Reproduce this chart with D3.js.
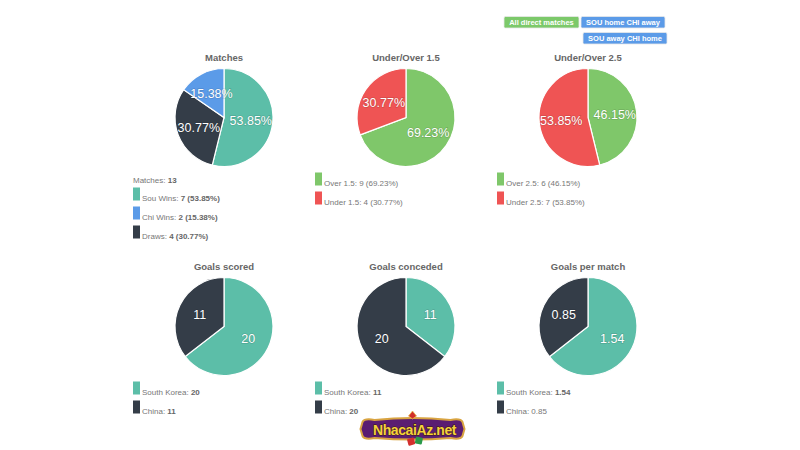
<!DOCTYPE html>
<html><head><meta charset="utf-8">
<script src="https://cdn.jsdelivr.net/npm/d3@7"></script>
<style>
html,body{margin:0;padding:0;background:#fff;}
svg{display:block;font-family:"Liberation Sans",Arial,sans-serif;}
</style></head>
<body><svg id="c" width="800" height="450"></svg>
<script>
// ---------- data ----------
const chartTitles = ["Matches","Under/Over 1.5","Under/Over 2.5","Goals scored","Goals conceded","Goals per match"];

const matchCats  = ["Sou Wins","Draws","Chi Wins"];     // pie order (clockwise from top)
const matchVals  = [7, 4, 2];
const matchPct   = [53.85, 30.77, 15.38];
const matchLegendOrder = ["Sou Wins","Chi Wins","Draws"];
const matchTotal = 13;

const uo15Cats = ["Over 1.5","Under 1.5"];
const uo15Vals = [9, 4];
const uo15Pct  = [69.23, 30.77];

const uo25Cats = ["Over 2.5","Under 2.5"];
const uo25Vals = [6, 7];
const uo25Pct  = [46.15, 53.85];

const teams = ["South Korea","China"];
const goalsScored   = [20, 11];
const goalsConceded = [11, 20];
const goalsPerMatch = [1.54, 0.85];

const buttonLabels = ["All direct matches","SOU home CHI away","SOU away CHI home"];

// ---------- styles ----------
const C = {teal:"#5cbea8", dark:"#343d48", blue:"#5b9be8", green:"#7fc76a", red:"#ef5454"};
const matchColors = {"Sou Wins":C.teal,"Chi Wins":C.blue,"Draws":C.dark};

const svg = d3.select("#c");
const R = 49;
const colX = d3.scalePoint().domain([0,1,2]).range([224, 588]);
const rowY = d3.scalePoint().domain([0,1]).range([117.5, 326.5]);

const panels = [
  {title:chartTitles[0], col:0,row:0,
   slices: matchCats.map((c,i)=>({name:c,value:matchVals[i],color:matchColors[c],label:matchPct[i].toFixed(2)+"%"})),
   header:["Matches: ", String(matchTotal)],
   legend: matchLegendOrder.map(c=>{const i=matchCats.indexOf(c);return {name:c+": ",val:matchVals[i]+" ("+matchPct[i].toFixed(2)+"%)",color:matchColors[c],bold:true};})},
  {title:chartTitles[1], col:1,row:0,
   slices: uo15Cats.map((c,i)=>({name:c,value:uo15Vals[i],color:[C.green,C.red][i],label:uo15Pct[i].toFixed(2)+"%"})),
   legend: uo15Cats.map((c,i)=>({name:c+": ",val:uo15Vals[i]+" ("+uo15Pct[i].toFixed(2)+"%)",color:[C.green,C.red][i],bold:false}))},
  {title:chartTitles[2], col:2,row:0,
   slices: uo25Cats.map((c,i)=>({name:c,value:uo25Vals[i],color:[C.green,C.red][i],label:uo25Pct[i].toFixed(2)+"%"})),
   legend: uo25Cats.map((c,i)=>({name:c+": ",val:uo25Vals[i]+" ("+uo25Pct[i].toFixed(2)+"%)",color:[C.green,C.red][i],bold:false}))},
  {title:chartTitles[3], col:0,row:1,
   slices: teams.map((t,i)=>({name:t,value:goalsScored[i],color:[C.teal,C.dark][i],label:String(goalsScored[i])})),
   legend: teams.map((t,i)=>({name:t+": ",val:String(goalsScored[i]),color:[C.teal,C.dark][i],bold:true}))},
  {title:chartTitles[4], col:1,row:1,
   slices: teams.map((t,i)=>({name:t,value:goalsConceded[i],color:[C.teal,C.dark][i],label:String(goalsConceded[i])})),
   legend: teams.map((t,i)=>({name:t+": ",val:String(goalsConceded[i]),color:[C.teal,C.dark][i],bold:true}))},
  {title:chartTitles[5], col:2,row:1,
   slices: teams.map((t,i)=>({name:t,value:goalsPerMatch[i],color:[C.teal,C.dark][i],label:goalsPerMatch[i].toFixed(2)})),
   legend: teams.map((t,i)=>({name:t+": ",val:goalsPerMatch[i].toFixed(2),color:[C.teal,C.dark][i],bold:i===0}))}
];

const pie = d3.pie().sort(null).value(d=>d.value);
const arc = d3.arc().innerRadius(0).outerRadius(R);
const labelArc = d3.arc().innerRadius(R*0.55).outerRadius(R*0.55);

panels.forEach(p=>{
  const cx = colX(p.col), cy = rowY(p.row);
  const g = svg.append("g").attr("transform",`translate(${cx},${cy})`);
  svg.append("text").attr("x",cx).attr("y",cy-R-8).attr("text-anchor","middle")
     .attr("font-size",9.5).attr("font-weight","bold").attr("fill","#666").text(p.title);
  const arcs = pie(p.slices);
  g.selectAll("path").data(arcs).join("path").attr("d",arc)
    .attr("fill",d=>d.data.color).attr("stroke","#fff").attr("stroke-width",1.2);
  g.selectAll("text.lbl").data(arcs).join("text").attr("class","lbl")
    .attr("transform",d=>`translate(${labelArc.centroid(d)})`)
    .attr("text-anchor","middle").attr("dy","0.36em")
    .attr("font-size",12.5).attr("fill","#fff")
    .style("paint-order","stroke").attr("stroke","rgba(0,0,0,0.12)").attr("stroke-width",1.5)
    .text(d=>d.data.label);

  // legend
  const lx = cx - 91;
  let ly = cy + R + 6;
  if (p.header){
    const t = svg.append("text").attr("x",lx).attr("y",cy+R+16).attr("font-size",8).attr("fill","#777");
    t.append("tspan").text(p.header[0]);
    t.append("tspan").attr("font-weight","bold").attr("fill","#666").text(p.header[1]);
    ly = cy + R + 21;
  }
  p.legend.forEach((it,i)=>{
    const y = ly + i*19;
    svg.append("rect").attr("x",lx).attr("y",y).attr("width",7).attr("height",13).attr("fill",it.color);
    const t = svg.append("text").attr("x",lx+9).attr("y",y+13).attr("font-size",8).attr("fill","#777");
    t.append("tspan").text(it.name);
    t.append("tspan").attr("font-weight",it.bold?"bold":"normal").attr("fill",it.bold?"#666":"#777").text(it.val);
  });
});

// ---------- buttons ----------
const btns = [
  {label:buttonLabels[0], color:"#7cc96a", x:504, y:16.5, w:75},
  {label:buttonLabels[1], color:"#5b9be8", x:581, y:16.5, w:84},
  {label:buttonLabels[2], color:"#5b9be8", x:583, y:32.5, w:84}
];
btns.forEach(b=>{
  svg.append("rect").attr("x",b.x).attr("y",b.y).attr("width",b.w).attr("height",11.5).attr("rx",1.5)
     .attr("fill",b.color).attr("stroke","#e8e8e8").attr("stroke-width",0.8);
  svg.append("text").attr("x",b.x+b.w/2).attr("y",b.y+8.6).attr("text-anchor","middle")
     .attr("font-size",7.5).attr("font-weight","bold").attr("fill","#fff").text(b.label);
});

// ---------- watermark logo ----------
const lg = svg.append("g").attr("transform","translate(412.5,429)");
lg.append("path").attr("d","M-50,-7 Q-48,-11 -38,-9 Q0,-13 38,-9 Q48,-11 50,-7 L52,0 L50,7 Q48,11 38,9 Q0,12 -38,9 Q-48,11 -50,7 L-52,0 Z")
  .attr("fill","#5a1d72").attr("stroke","#d9a441").attr("stroke-width",2);
lg.append("path").attr("d","M0,-18 L4,-13 L0,-10 L-4,-13 Z").attr("fill","#d0302a").attr("stroke","#e8b84a").attr("stroke-width",0.8);
lg.append("text").attr("x",2).attr("y",5.5).attr("text-anchor","middle")
  .attr("font-size",14).attr("font-weight","bold")
  .attr("fill","#f4d23c").attr("stroke","#3a1a05").attr("stroke-width",0.8).style("paint-order","stroke")
  .attr("letter-spacing",-0.4).text("NhacaiAz.net");
lg.append("rect").attr("x",-5).attr("y",9).attr("width",7).attr("height",7).attr("rx",1).attr("fill","#d3302e").attr("transform","rotate(-15,-1,12)");
lg.append("rect").attr("x",3).attr("y",8).attr("width",7).attr("height",7).attr("rx",1).attr("fill","#2a9a4a").attr("transform","rotate(12,6,11)");
</script></body></html>
